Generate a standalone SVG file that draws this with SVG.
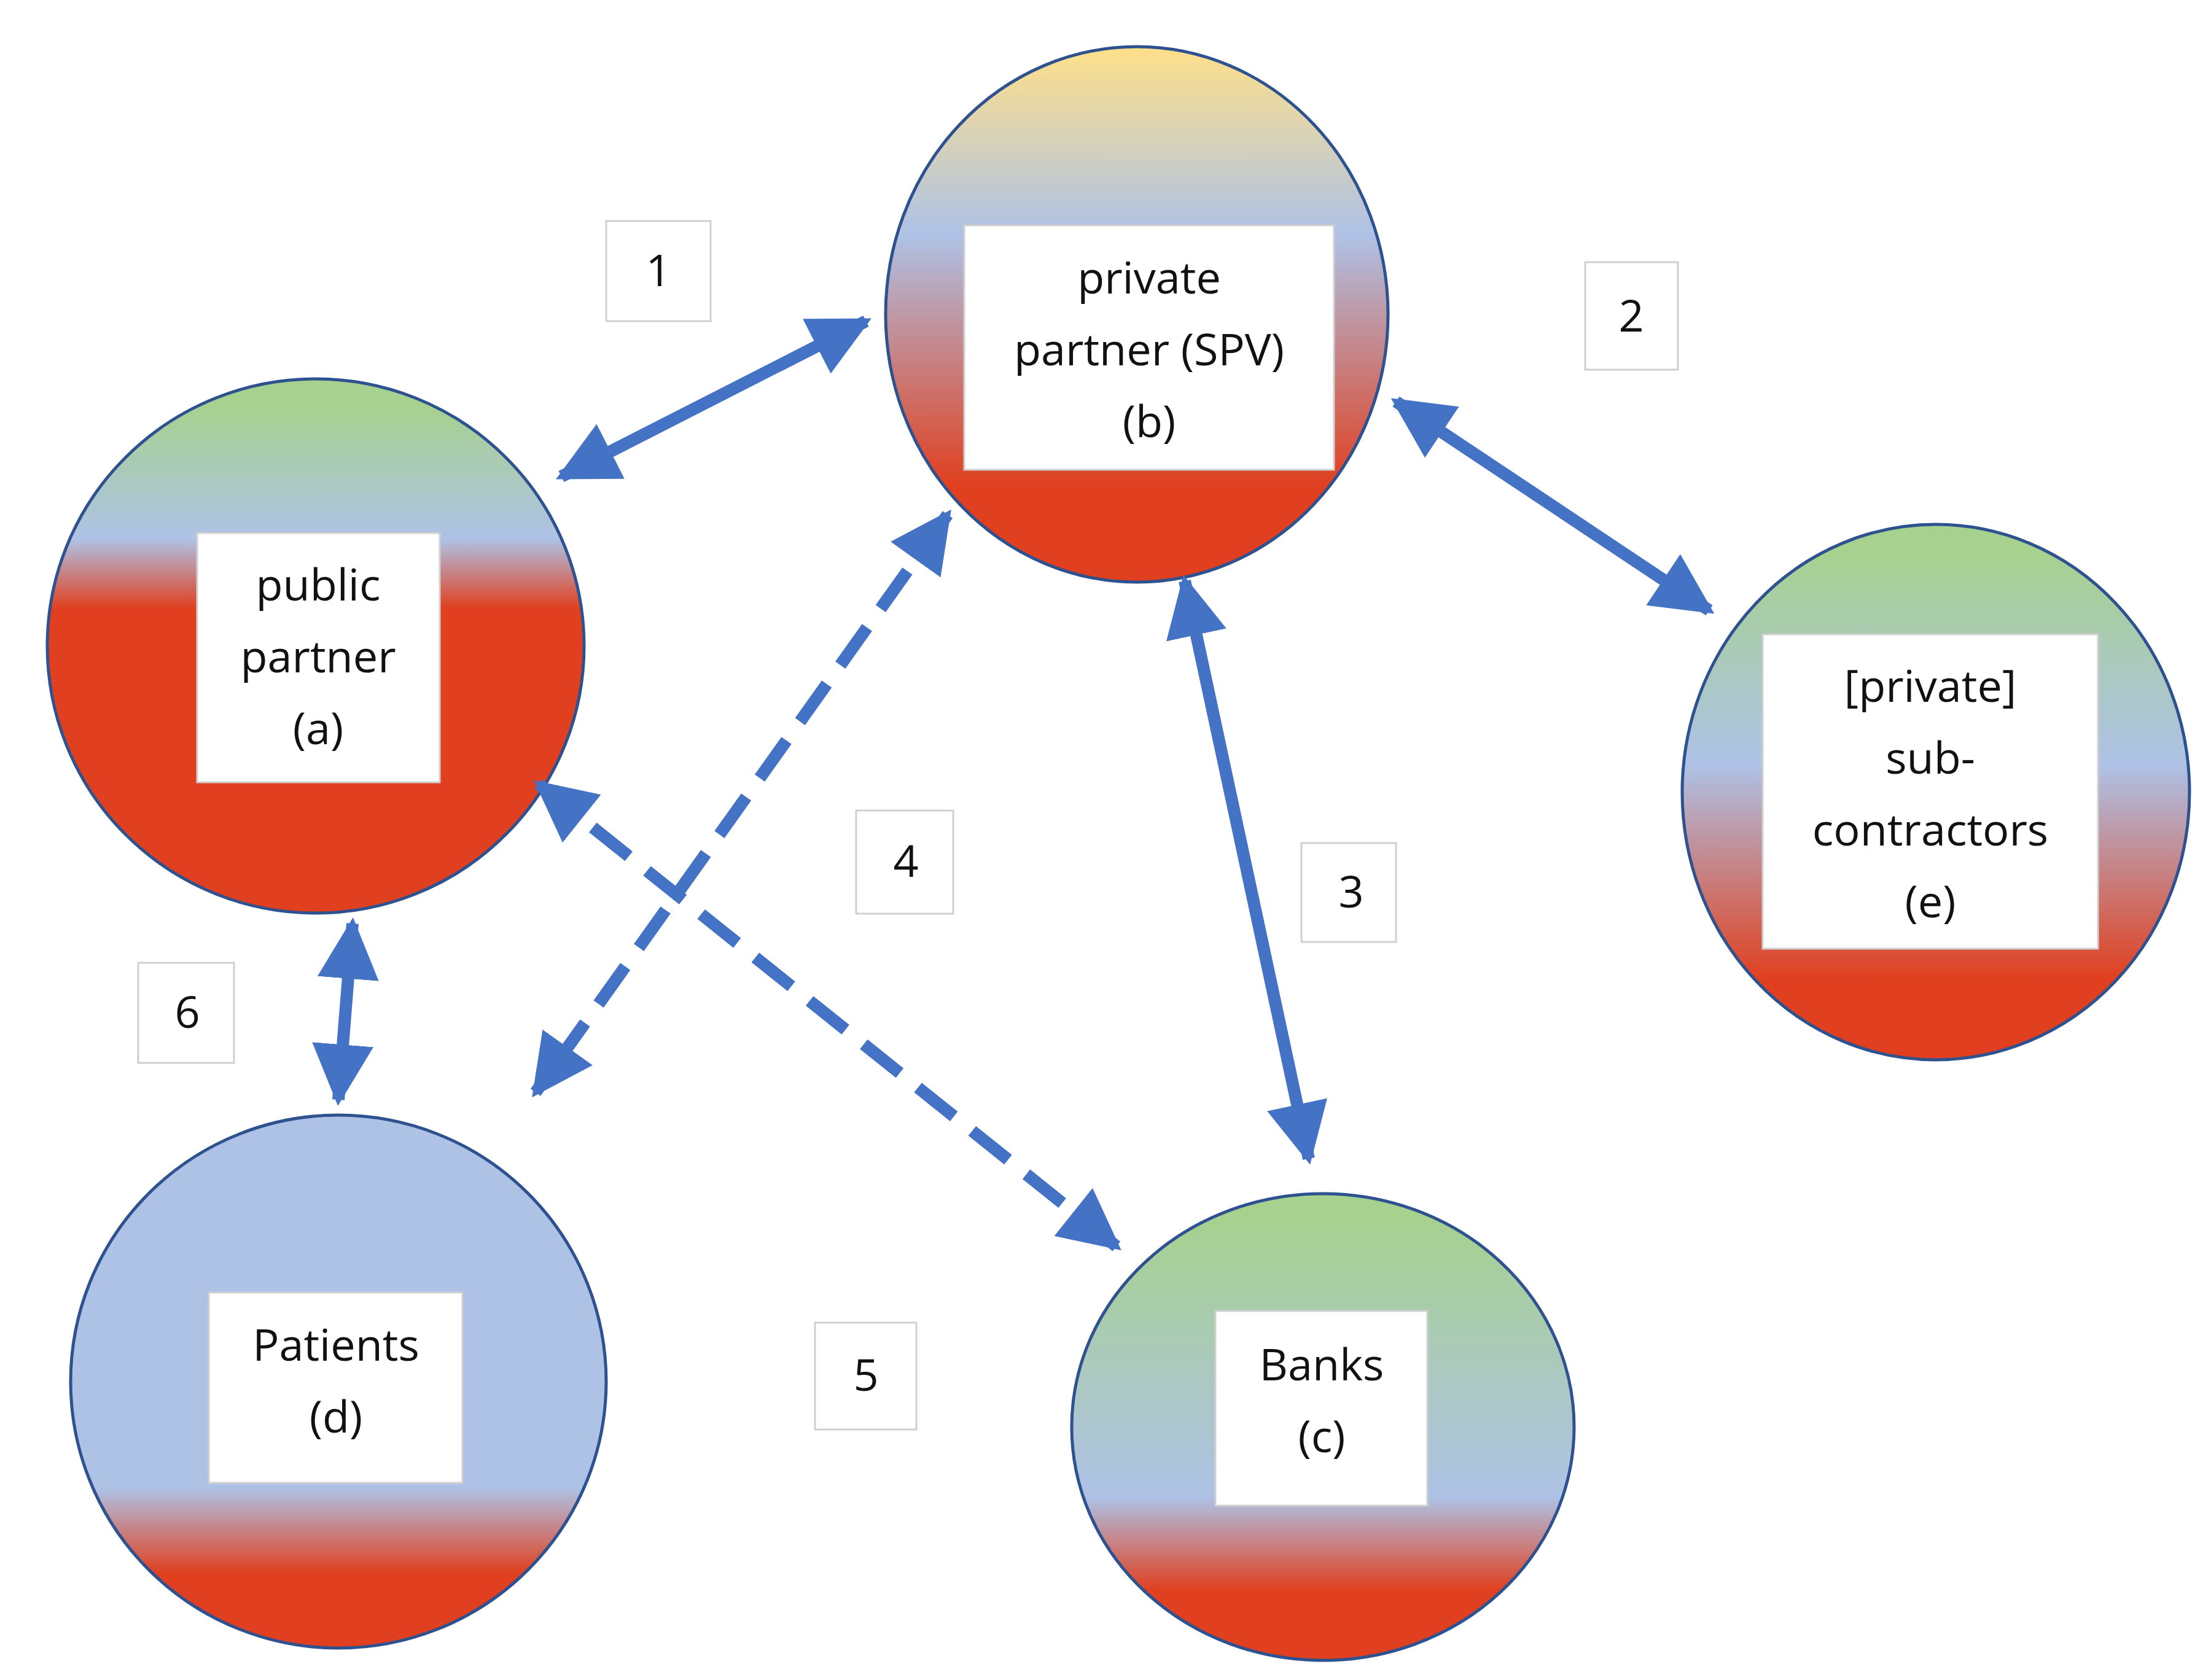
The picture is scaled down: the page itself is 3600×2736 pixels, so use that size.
<svg xmlns="http://www.w3.org/2000/svg" width="3600" height="2736" viewBox="0 0 3600 2736">
<style>
.c{stroke:#2E5290;stroke-width:5}
.b{fill:#fff;stroke:#d0d0d0;stroke-width:3}
.t{font-family:"Open Sans","Liberation Sans",sans-serif;font-size:72px;fill:#111;text-anchor:middle}
.a{stroke:#4472C4;stroke-width:20;fill:none;marker-start:url(#m);marker-end:url(#m)}
.d{stroke-dasharray:75 38}
</style>
<defs>
<marker id="m" viewBox="0 0 5 5" refX="4.5" refY="2.5" markerWidth="5" markerHeight="5" orient="auto-start-reverse" markerUnits="strokeWidth"><path d="M0,0L5,2.5L0,5z" fill="#4472C4"/></marker>
<linearGradient id="ga" x1="0" y1="0" x2="0" y2="1"><stop offset="0.05" stop-color="#A6D18E"/><stop offset="0.3" stop-color="#AEC2E6"/><stop offset="0.43" stop-color="#E0401F"/><stop offset="1" stop-color="#E0401F"/></linearGradient>
<linearGradient id="gb" x1="0" y1="0" x2="0" y2="1"><stop offset="0" stop-color="#FFE08A"/><stop offset="0.35" stop-color="#AEC2E6"/><stop offset="0.82" stop-color="#E0401F"/><stop offset="1" stop-color="#E0401F"/></linearGradient>
<linearGradient id="ge" x1="0" y1="0" x2="0" y2="1"><stop offset="0.05" stop-color="#A6D18E"/><stop offset="0.45" stop-color="#AEC2E6"/><stop offset="0.85" stop-color="#E0401F"/><stop offset="1" stop-color="#E0401F"/></linearGradient>
<linearGradient id="gd" x1="0" y1="0" x2="0" y2="1"><stop offset="0" stop-color="#AEC2E6"/><stop offset="0.7" stop-color="#AEC2E6"/><stop offset="0.86" stop-color="#E0401F"/><stop offset="1" stop-color="#E0401F"/></linearGradient>
<linearGradient id="gc" x1="0" y1="0" x2="0" y2="1"><stop offset="0.05" stop-color="#A6D18E"/><stop offset="0.65" stop-color="#AEC2E6"/><stop offset="0.85" stop-color="#E0401F"/><stop offset="1" stop-color="#E0401F"/></linearGradient>
</defs>
<rect width="3600" height="2736" fill="#fff"/>
<g id="a"><ellipse class="c" cx="514" cy="1052" rx="437" ry="435" fill="url(#ga)"/><rect class="b" x="321" y="868" width="395" height="406"/><text class="t"><tspan x="518" y="978">public</tspan><tspan x="518" y="1095">partner</tspan><tspan x="518" y="1212">(a)</tspan></text></g>
<g id="b"><ellipse class="c" cx="1851" cy="512" rx="409" ry="436" fill="url(#gb)"/><rect class="b" x="1570" y="367" width="602" height="398"/><text class="t"><tspan x="1871" y="478">private</tspan><tspan x="1871" y="595">partner (SPV)</tspan><tspan x="1871" y="712">(b)</tspan></text></g>
<g id="e"><ellipse class="c" cx="3152" cy="1290" rx="413" ry="436" fill="url(#ge)"/><rect class="b" x="2870" y="1033" width="546" height="512"/><text class="t"><tspan x="3143" y="1143">[private]</tspan><tspan x="3143" y="1260">sub-</tspan><tspan x="3143" y="1377">contractors</tspan><tspan x="3143" y="1494">(e)</tspan></text></g>
<g id="d"><ellipse class="c" cx="551" cy="2250" rx="436" ry="434" fill="url(#gd)"/><rect class="b" x="340" y="2105" width="413" height="310"/><text class="t"><tspan x="547" y="2216">Patients</tspan><tspan x="547" y="2333">(d)</tspan></text></g>
<g id="c"><ellipse class="c" cx="2154" cy="2324" rx="409" ry="380" fill="url(#gc)"/><rect class="b" x="1979" y="2135" width="345" height="317"/><text class="t"><tspan x="2152" y="2248">Banks</tspan><tspan x="2152" y="2365">(c)</tspan></text></g>
<g id="labels">
<rect class="b" x="987" y="360" width="170" height="163"/><text class="t" x="1072" y="466">1</text>
<rect class="b" x="2581" y="427" width="151" height="175"/><text class="t" x="2656" y="540">2</text>
<rect class="b" x="2119" y="1373" width="154" height="161"/><text class="t" x="2200" y="1478">3</text>
<rect class="b" x="1394" y="1320" width="158" height="168"/><text class="t" x="1475" y="1428">4</text>
<rect class="b" x="1327" y="2154" width="165" height="174"/><text class="t" x="1410" y="2265">5</text>
<rect class="b" x="225" y="1568" width="156" height="163"/><text class="t" x="305" y="1674">6</text>
</g>
<g id="connectors">
<path class="a" d="M914,776L1410,523"/>
<path class="a" d="M2273,654L2783,994"/>
<path class="a" d="M1929,946L2131,1887"/>
<path class="a d" d="M1543,838L872,1779"/>
<path class="a d" d="M877,1277L1818,2030"/>
<path class="a" d="M574,1504L551,1791"/>
</g>
</svg>
